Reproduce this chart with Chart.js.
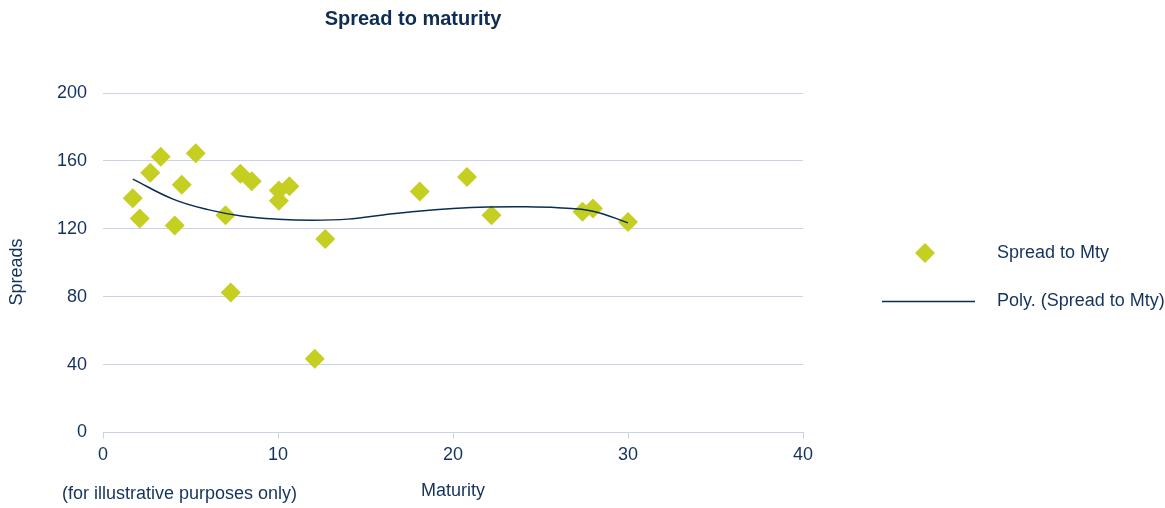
<!DOCTYPE html>
<html>
<head>
<meta charset="utf-8">
<title>Spread to maturity</title>
<script src="https://cdn.jsdelivr.net/npm/chart.js@4/dist/chart.umd.min.js"></script>
<style>
  html, body { margin: 0; padding: 0; background: #fff; }
  .chart-box { width: 1165px; height: 508px; position: relative; }
</style>
</head>
<body>
<div class="chart-box">
  <canvas id="spread-chart"></canvas>
</div>
<script>
// valores (maturity en años, spread en pb)
const maturity = [1.7, 2.1, 2.7, 3.3, 4.1, 4.5, 5.3, 7.0, 7.3, 7.85, 8.5, 10.05, 10.05, 10.65, 12.1, 12.7, 18.1, 20.8, 22.2, 27.4, 28.0, 30.0];
const spreads  = [138, 126, 153, 162.5, 122, 146, 164.5, 128, 82.5, 152.5, 148, 142.5, 136.5, 145, 43.5, 114, 142, 150.5, 128, 130, 132, 124];

// linea de tendencia (polinomica) leida punto a punto
const trendX = [1.7, 4, 6, 8, 10, 12, 14, 16, 18, 20, 22, 24, 26, 28, 30];
const trendY = [149.3, 137.5, 131.3, 127.4, 125.6, 125.0, 125.7, 128.2, 130.4, 131.9, 132.8, 133.0, 132.4, 130.4, 123.5];

const xTicks = [0, 10, 20, 30, 40];
const yTicks = [0, 40, 80, 120, 160, 200];

const navy = '#14335c';
const lime = '#c4cf21';
const gridBlue = '#cad3e5';
const font = '"Liberation Sans", Arial, Helvetica, sans-serif';

// textos fuera del area del grafico + leyenda
const extrasPlugin = {
  id: 'extras',
  afterDraw(chart) {
    const ctx = chart.ctx;
    ctx.save();
    ctx.fillStyle = '#0f2d52';
    ctx.font = 'bold 20px ' + font;
    ctx.textAlign = 'center';
    ctx.textBaseline = 'middle';
    ctx.fillText('Spread to maturity', 413, 19);

    ctx.fillStyle = navy;
    ctx.font = '18px ' + font;
    // titulo eje y
    ctx.save();
    ctx.translate(17, 272);
    ctx.rotate(-Math.PI / 2);
    ctx.fillText('Spreads', 0, 0);
    ctx.restore();

    ctx.textAlign = 'left';
    ctx.fillText('(for illustrative purposes only)', 62, 494);

    // leyenda
    ctx.fillStyle = lime;
    ctx.beginPath();
    ctx.moveTo(915, 253);
    ctx.lineTo(925, 243);
    ctx.lineTo(935, 253);
    ctx.lineTo(925, 263);
    ctx.closePath();
    ctx.fill();
    ctx.strokeStyle = '#0a2d52';
    ctx.lineWidth = 1.5;
    ctx.beginPath();
    ctx.moveTo(882, 301.5);
    ctx.lineTo(975, 301.5);
    ctx.stroke();

    ctx.fillStyle = navy;
    ctx.fillText('Spread to Mty', 997, 253);
    ctx.fillText('Poly. (Spread to Mty)', 997, 301);
    ctx.restore();
  }
};

const ctx = document.getElementById('spread-chart');
new Chart(ctx, {
  type: 'scatter',
  data: {
    datasets: [
      {
        label: 'Spread to Mty',
        data: maturity.map((m, i) => ({ x: m, y: spreads[i] })),
        pointStyle: 'rectRot',
        pointRadius: 10,
        pointHoverRadius: 10,
        backgroundColor: lime,
        borderWidth: 0,
        order: 2
      },
      {
        label: 'Poly. (Spread to Mty)',
        type: 'line',
        data: trendX.map((t, i) => ({ x: t, y: trendY[i] })),
        borderColor: '#0a2d52',
        borderWidth: 1.5,
        pointRadius: 0,
        tension: 0.4,
        fill: false,
        order: 1
      }
    ]
  },
  options: {
    responsive: true,
    maintainAspectRatio: false,
    animation: false,
    layout: { padding: { top: 93, right: 362, left: 0, bottom: 0 } },
    plugins: {
      legend: { display: false },
      title: { display: false },
      tooltip: { enabled: false }
    },
    scales: {
      x: {
        type: 'linear',
        min: 0,
        max: 40,
        afterFit: (s) => { s.height = 75.5; },
        afterBuildTicks: (s) => { s.ticks = xTicks.map(v => ({ value: v })); },
        grid: { drawOnChartArea: false, drawTicks: true, tickLength: 6, color: gridBlue },
        border: { display: true, color: gridBlue },
        ticks: { color: navy, padding: 6, font: { family: font, size: 18 } },
        title: {
          display: true,
          text: 'Maturity',
          color: navy,
          font: { family: font, size: 18 },
          padding: { top: 0, bottom: 6 }
        }
      },
      y: {
        min: 0,
        max: 200,
        afterFit: (s) => { s.width = 103; },
        afterBuildTicks: (s) => { s.ticks = yTicks.map(v => ({ value: v })); },
        grid: { color: gridBlue, drawTicks: false },
        border: { display: false },
        ticks: { color: navy, padding: 16, font: { family: font, size: 18 } }
      }
    }
  },
  plugins: [extrasPlugin]
});
</script>
</body>
</html>
